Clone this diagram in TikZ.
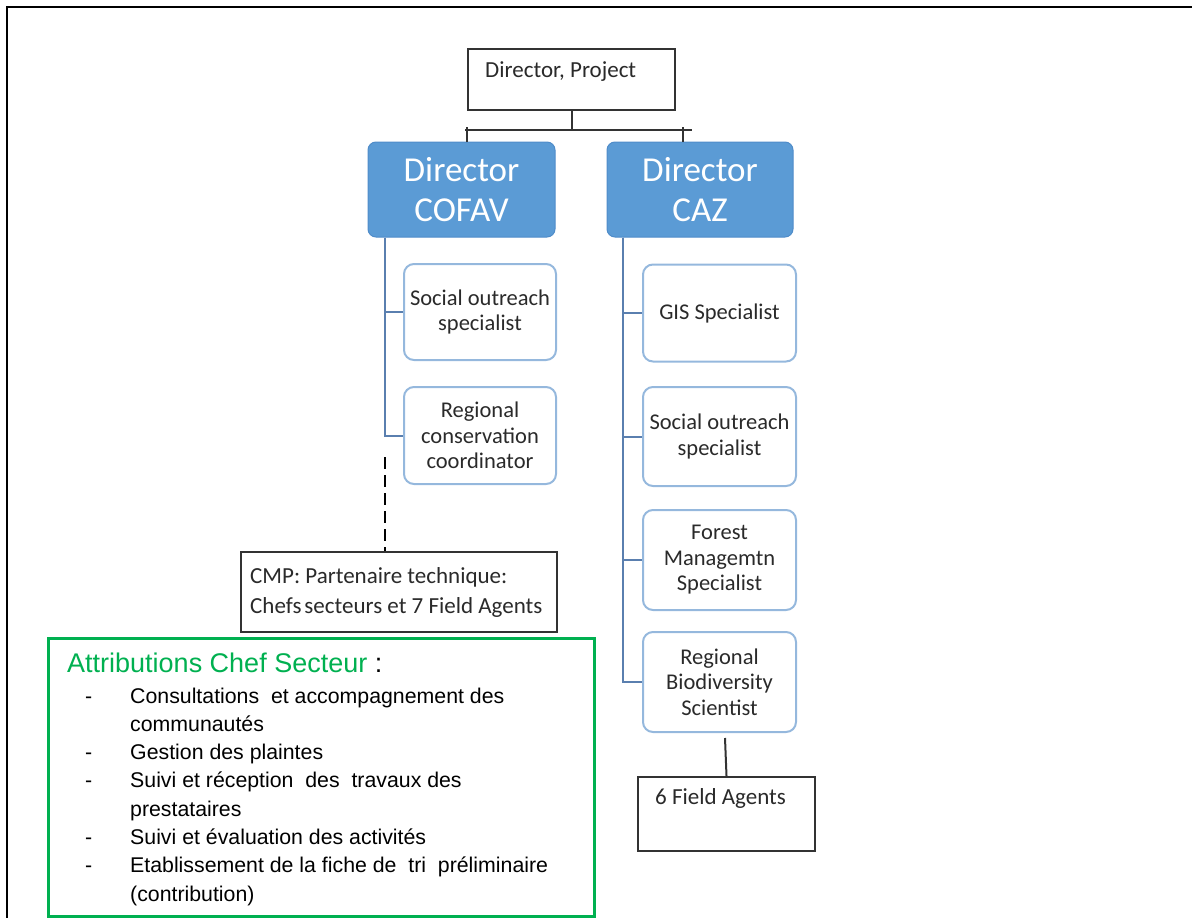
\documentclass[tikz,border=0pt]{standalone}
\usepackage{fontspec}
\setmainfont{Carlito}
\newfontfamily\arialf{Liberation Sans}
\definecolor{dirblue}{HTML}{5B9BD5}
\definecolor{dirborder}{HTML}{4F8CC9}
\definecolor{rolebord}{HTML}{95B8DD}
\definecolor{connblue}{HTML}{5A7FAF}
\definecolor{boxgray}{HTML}{333333}
\definecolor{txtgray}{HTML}{2A2A2A}
\definecolor{attrgreen}{HTML}{00B050}
\begin{document}
\begin{tikzpicture}[x=1pt,y=-1pt,
  plainbox/.style={draw=boxgray, line width=2.2pt, fill=white, inner sep=0pt},
  bluebox/.style={draw=dirborder, line width=1pt, fill=dirblue, rounded corners=8pt, text=white,
    font=\fontsize{35}{40}\selectfont, align=center, minimum width=187pt, minimum height=95pt, inner sep=0pt},
  rolebox/.style={draw=rolebord, line width=2pt, rounded corners=10pt, align=center,
    font=\fontsize{22.5}{25.5}\selectfont, text=txtgray, minimum width=153pt, inner sep=0pt},
  conn/.style={draw=connblue, line width=2pt},
  blk/.style={draw=boxgray, line width=2pt},
  smalltxt/.style={font=\fontsize{23}{30}\selectfont, text=txtgray, inner sep=0pt},
  listtxt/.style={font=\arialf\fontsize{21.3}{28}\selectfont, text=black, inner sep=0pt, anchor=base west}
]
\useasboundingbox (0,0) rectangle (1192,918);
% outer frame
\draw[line width=2.5pt, black] (7,918) -- (7,7) -- (1192,7);

% project director
\node[plainbox, minimum width=207pt, minimum height=61pt] (proj) at (571.5,79.5) {};
\node[smalltxt, anchor=west] (projtxt) at (485,72) {Director, Project};

% directors
\node[bluebox] (cofav) at (461.5,189.5) {Director\\COFAV};
\node[bluebox, minimum width=186pt] (caz) at (700,189.5) {Director\\CAZ};

% top connectors
\coordinate (hy) at (0,130);
\coordinate (jt) at (proj.south |- hy);
\draw[blk] (proj.south) -- (jt);
\coordinate (hl) at (465,130);
\coordinate (hr) at (692,130);
\draw[blk] (hl) -- (hr);
\coordinate (tl) at (467,127);
\coordinate (tr) at (683,127);
\draw[blk] (tl) -- (tl |- cofav.north);
\draw[blk] (tr) -- (tr |- caz.north);

% COFAV branch
\node[rolebox, minimum width=152pt, minimum height=96pt] (soc1) at (480,312) {Social outreach\\specialist};
\node[rolebox, minimum width=152pt, minimum height=97pt] (reg1) at (480,435.5) {Regional\\conservation\\coordinator};
\coordinate (cs) at ([xshift=17pt]cofav.south west);
\draw[conn] (cs) |- (soc1.west);
\draw[conn] (cs) |- (reg1.west);

% CMP
\node[plainbox, minimum width=316pt, minimum height=80pt] (cmp) at (399,592) {};
\node[smalltxt, anchor=west, align=left] (cmptxt) at (250,592) {CMP: Partenaire technique:\\Chefs\hspace{3pt}secteurs et 7 Field Agents};
\coordinate (dtop) at (385,457);
\draw[black, line width=2.2pt, dash pattern=on 12pt off 6pt] (dtop) -- (dtop |- cmp.north);

% CAZ branch
\node[rolebox, minimum height=97pt] (gis) at (719.5,313) {GIS Specialist};
\node[rolebox, minimum height=99pt] (soc2) at (719.5,436.5) {Social outreach\\specialist};
\node[rolebox, minimum height=100pt] (forest) at (719.5,560) {Forest\\Managemtn\\Specialist};
\node[rolebox, minimum height=100pt] (reg2) at (719.5,682) {Regional\\Biodiversity\\Scientist};
\coordinate (zs) at ([xshift=16pt]caz.south west);
\draw[conn] (zs) |- (gis.west);
\draw[conn] (zs) |- (soc2.west);
\draw[conn] (zs) |- (forest.west);
\draw[conn] (zs) |- (reg2.west);

% field agents
\node[plainbox, minimum width=177pt, minimum height=74pt] (fa) at (726.5,814) {};
\node[smalltxt, anchor=west] (fatxt) at (655,798) {6 Field Agents};
\draw[blk] ([shift={(5.5,5)}]reg2.south) -- (fa.north);

% attributions box
\node[draw=attrgreen, line width=2.5pt, minimum width=546pt, minimum height=278pt, inner sep=0pt, anchor=north west] (attr) at (47,637) {};
\node[listtxt, font=\arialf\fontsize{27}{30}\selectfont] (attrtitle) at (67,672.5) {\textcolor{attrgreen}{Attributions Chef Secteur} :};
\node[listtxt] (l1) at (130,703) {Consultations\ \ et accompagnement des};
\node[listtxt] (l2) at (130,731.3) {communautés};
\node[listtxt] (l3) at (130,759.6) {Gestion des plaintes};
\node[listtxt] (l4) at (130,787.9) {Suivi et réception\ \ des\ \ travaux des};
\node[listtxt] (l5) at (130,816.2) {prestataires};
\node[listtxt] (l6) at (130,844.5) {Suivi et évaluation des activités};
\node[listtxt] (l7) at (130,872.8) {Etablissement de la fiche de\ \ tri\ \ préliminaire};
\node[listtxt] (l8) at (130,901.1) {(contribution)};
\node[listtxt] (d1) at (85,703) {-};
\node[listtxt] (d3) at (85,759.6) {-};
\node[listtxt] (d4) at (85,787.9) {-};
\node[listtxt] (d6) at (85,844.5) {-};
\node[listtxt] (d7) at (85,872.8) {-};
\end{tikzpicture}
\end{document}
